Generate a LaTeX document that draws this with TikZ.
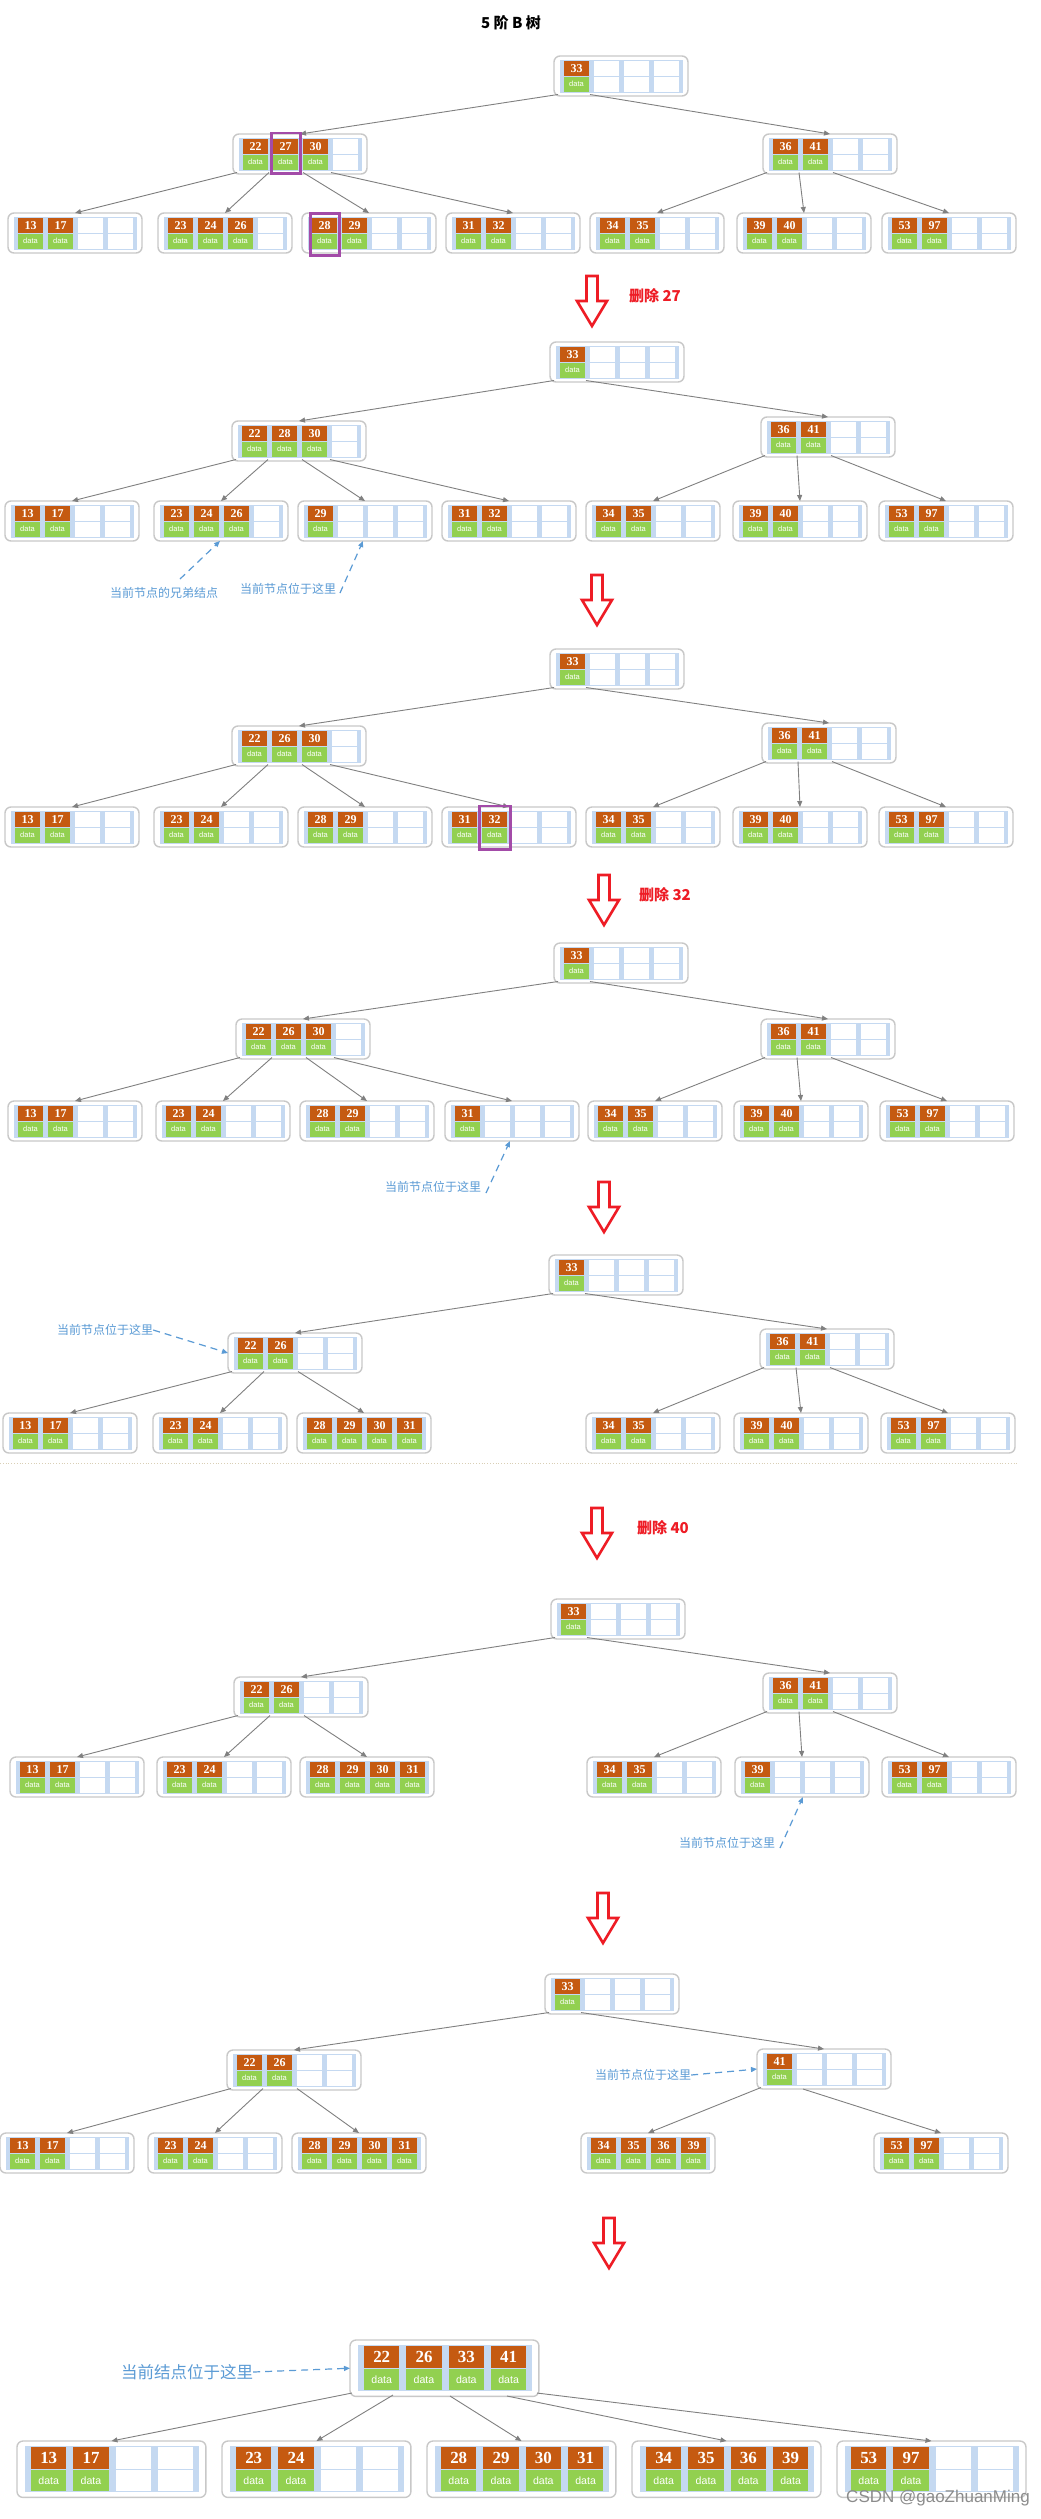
\documentclass[tikz,border=0pt]{standalone}
\usepackage{fontspec}
\usetikzlibrary{arrows.meta,calc}
\setmainfont{Liberation Sans}
\newfontfamily\numfont{Liberation Serif}
\newfontfamily\cjk{Noto Sans CJK SC}
\definecolor{orng}{HTML}{C55A11}
\definecolor{grn}{HTML}{92D050}
\definecolor{bandblue}{HTML}{C5D9F1}
\definecolor{boxgray}{HTML}{C8C8C8}
\definecolor{edgegray}{HTML}{808080}
\definecolor{annblue}{HTML}{5B9BD5}
\definecolor{hlpurple}{HTML}{A34BA8}
\definecolor{arrred}{HTML}{EE1C25}
\definecolor{sepcol}{HTML}{D9CFB5}
\tikzset{
  bbox/.style={draw=boxgray, line width=1.4pt, rounded corners=6pt, fill=white,
    minimum width=134pt, minimum height=40pt, inner sep=0pt, outer sep=0pt},
  keytxt/.style={text=white, font=\numfont\bfseries\fontsize{12}{12}\selectfont, inner sep=0pt},
  datatxt/.style={text=white, font=\fontsize{7.5}{8}\selectfont, inner sep=0pt},
  link/.style={draw=edgegray, line width=0.9pt, -{Triangle[length=6pt,width=5pt]}},
  annarrow/.style={draw=annblue, line width=1.2pt, dash pattern=on 7pt off 5pt, -{Triangle[length=6pt,width=5pt]}},
  anntext/.style={text=annblue, font=\cjk\fontsize{12}{12}\selectfont, inner sep=0pt},
  deltext/.style={text=arrred, font=\cjk\bfseries\fontsize{15}{15}\selectfont, inner sep=0pt},
  hl/.style={draw=hlpurple, line width=2.5pt},
  downarrow/.style={draw=arrred, line width=2.6pt, fill=white, line join=miter},
}
\newcommand\btnode[5]{%
  \begin{scope}[shift={(#2,#3)}, scale=#4, transform shape]
    \node[bbox, anchor=north west] (#1) at (0,0) {};
    \fill[bandblue] (6,3.5) rectangle (129,36.5);
    \foreach \i in {0,1,2,3}{%
      \fill[white] (10+30*\i,4.5) rectangle (35+30*\i,19.5);
      \fill[white] (10+30*\i,20.5) rectangle (35+30*\i,35.5);}
    \foreach \k [count=\j from 0] in {#5}{%
      \fill[orng] (10+30*\j,4.5) rectangle (35+30*\j,19.5);
      \fill[grn] (10+30*\j,20.5) rectangle (35+30*\j,35.5);
      \node[keytxt] at (22.5+30*\j,12.2) {\k};
      \node[datatxt] at (22.5+30*\j,28) {data};}
    \foreach \p [count=\j from 0] in {4,36,70,98,128}{\coordinate (#1-\j) at (\p,38.5);}
  \end{scope}}
\newcommand\redarrow[2]{%
  \draw[downarrow] (#1-5.5,#2) -- (#1+5.5,#2) -- (#1+5.5,#2+25) -- (#1+15,#2+25)
    -- (#1,#2+50) -- (#1-15,#2+25) -- (#1-5.5,#2+25) -- cycle;}
\begin{document}
\begin{tikzpicture}[x=1pt,y=-1pt]
\fill[white] (0,0) rectangle (1041,2519);
\useasboundingbox (0,0) rectangle (1041,2519);

% title
\node[font=\cjk\bfseries\fontsize{15}{15}\selectfont, inner sep=0pt] (title) at (511,23) {5 阶 B 树};

% ---------- panel 1 ----------
\btnode{A1}{554}{56}{1}{33}
\btnode{B1}{233}{134}{1}{22,27,30}
\btnode{C1}{763}{134}{1}{36,41}
\btnode{L11}{8}{213}{1}{13,17}
\btnode{L12}{158}{213}{1}{23,24,26}
\btnode{L13}{302}{213}{1}{28,29}
\btnode{L14}{446}{213}{1}{31,32}
\btnode{L15}{590}{213}{1}{34,35}
\btnode{L16}{737}{213}{1}{39,40}
\btnode{L17}{882}{213}{1}{53,97}
\draw[link] (A1-0) -- (B1.north);
\draw[link] (A1-1) -- (C1.north);
\draw[link] (B1-0) -- (L11.north);
\draw[link] (B1-1) -- (L12.north);
\draw[link] (B1-2) -- (L13.north);
\draw[link] (B1-3) -- (L14.north);
\draw[link] (C1-0) -- (L15.north);
\draw[link] (C1-1) -- (L16.north);
\draw[link] (C1-2) -- (L17.north);
\draw[hl] (271.5,133) rectangle (300.5,173.5);
\draw[hl] (310.5,213.5) rectangle (339.5,255.5);

\redarrow{592}{276}
\node[deltext] (d27) at (655,296) {删除 27};

% ---------- panel 2 ----------
\btnode{A2}{550}{342}{1}{33}
\btnode{B2}{232}{421}{1}{22,28,30}
\btnode{C2}{761}{417}{1}{36,41}
\btnode{L21}{5}{501}{1}{13,17}
\btnode{L22}{154}{501}{1}{23,24,26}
\btnode{L23}{298}{501}{1}{29}
\btnode{L24}{442}{501}{1}{31,32}
\btnode{L25}{586}{501}{1}{34,35}
\btnode{L26}{733}{501}{1}{39,40}
\btnode{L27}{879}{501}{1}{53,97}
\draw[link] (A2-0) -- (B2.north);
\draw[link] (A2-1) -- (C2.north);
\draw[link] (B2-0) -- (L21.north);
\draw[link] (B2-1) -- (L22.north);
\draw[link] (B2-2) -- (L23.north);
\draw[link] (B2-3) -- (L24.north);
\draw[link] (C2-0) -- (L25.north);
\draw[link] (C2-1) -- (L26.north);
\draw[link] (C2-2) -- (L27.north);
\node[anntext] (T2a) at (164,593) {当前节点的兄弟结点};
\node[anntext] (T2b) at (288,589) {当前节点位于这里};
\coordinate (S2a) at (180,579);
\coordinate (S2b) at (340,593);
\draw[annarrow] (S2a) -- ([xshift=66pt]L22.south west);
\draw[annarrow] (S2b) -- ([xshift=65pt]L23.south west);

\redarrow{597}{575}

% ---------- panel 3 ----------
\btnode{A3}{550}{649}{1}{33}
\btnode{B3}{232}{726}{1}{22,26,30}
\btnode{C3}{762}{723}{1}{36,41}
\btnode{L31}{5}{807}{1}{13,17}
\btnode{L32}{154}{807}{1}{23,24}
\btnode{L33}{298}{807}{1}{28,29}
\btnode{L34}{442}{807}{1}{31,32}
\btnode{L35}{586}{807}{1}{34,35}
\btnode{L36}{733}{807}{1}{39,40}
\btnode{L37}{879}{807}{1}{53,97}
\draw[link] (A3-0) -- (B3.north);
\draw[link] (A3-1) -- (C3.north);
\draw[link] (B3-0) -- (L31.north);
\draw[link] (B3-1) -- (L32.north);
\draw[link] (B3-2) -- (L33.north);
\draw[link] (B3-3) -- (L34.north);
\draw[link] (C3-0) -- (L35.north);
\draw[link] (C3-1) -- (L36.north);
\draw[link] (C3-2) -- (L37.north);
\draw[hl] (479.5,806) rectangle (510.5,849.5);

\redarrow{604}{875}
\node[deltext] (d32) at (665,895) {删除 32};

% ---------- panel 4 ----------
\btnode{A4}{554}{943}{1}{33}
\btnode{B4}{236}{1019}{1}{22,26,30}
\btnode{C4}{761}{1019}{1}{36,41}
\btnode{L41}{8}{1101}{1}{13,17}
\btnode{L42}{156}{1101}{1}{23,24}
\btnode{L43}{300}{1101}{1}{28,29}
\btnode{L44}{445}{1101}{1}{31}
\btnode{L45}{588}{1101}{1}{34,35}
\btnode{L46}{734}{1101}{1}{39,40}
\btnode{L47}{880}{1101}{1}{53,97}
\draw[link] (A4-0) -- (B4.north);
\draw[link] (A4-1) -- (C4.north);
\draw[link] (B4-0) -- (L41.north);
\draw[link] (B4-1) -- (L42.north);
\draw[link] (B4-2) -- (L43.north);
\draw[link] (B4-3) -- (L44.north);
\draw[link] (C4-0) -- (L45.north);
\draw[link] (C4-1) -- (L46.north);
\draw[link] (C4-2) -- (L47.north);
\node[anntext] (T4) at (433,1187) {当前节点位于这里};
\coordinate (S4) at (486,1193);
\draw[annarrow] (S4) -- ([xshift=65pt]L44.south west);

\redarrow{604}{1182}

% ---------- panel 5 ----------
\btnode{A5}{549}{1255}{1}{33}
\btnode{B5}{228}{1333}{1}{22,26}
\btnode{C5}{760}{1329}{1}{36,41}
\btnode{L51}{3}{1413}{1}{13,17}
\btnode{L52}{153}{1413}{1}{23,24}
\btnode{L53}{297}{1413}{1}{28,29,30,31}
\btnode{L54}{586}{1413}{1}{34,35}
\btnode{L55}{734}{1413}{1}{39,40}
\btnode{L56}{881}{1413}{1}{53,97}
\draw[link] (A5-0) -- (B5.north);
\draw[link] (A5-1) -- (C5.north);
\draw[link] (B5-0) -- (L51.north);
\draw[link] (B5-1) -- (L52.north);
\draw[link] (B5-2) -- (L53.north);
\draw[link] (C5-0) -- (L54.north);
\draw[link] (C5-1) -- (L55.north);
\draw[link] (C5-2) -- (L56.north);
\node[anntext] (T5) at (105,1330) {当前节点位于这里};
\draw[annarrow] (T5.east) -- (B5.west);
\draw[sepcol, line width=0.8pt, dotted] (0,1463) -- (1017,1463);

\redarrow{597}{1508}
\node[deltext] (d40) at (663,1528) {删除 40};

% ---------- panel 6 ----------
\btnode{A6}{551}{1599}{1}{33}
\btnode{B6}{234}{1677}{1}{22,26}
\btnode{C6}{763}{1673}{1}{36,41}
\btnode{L61}{10}{1757}{1}{13,17}
\btnode{L62}{157}{1757}{1}{23,24}
\btnode{L63}{300}{1757}{1}{28,29,30,31}
\btnode{L64}{587}{1757}{1}{34,35}
\btnode{L65}{735}{1757}{1}{39}
\btnode{L66}{882}{1757}{1}{53,97}
\draw[link] (A6-0) -- (B6.north);
\draw[link] (A6-1) -- (C6.north);
\draw[link] (B6-0) -- (L61.north);
\draw[link] (B6-1) -- (L62.north);
\draw[link] (B6-2) -- (L63.north);
\draw[link] (C6-0) -- (L64.north);
\draw[link] (C6-1) -- (L65.north);
\draw[link] (C6-2) -- (L66.north);
\node[anntext] (T6) at (727,1843) {当前节点位于这里};
\coordinate (S6) at (780,1848);
\draw[annarrow] (S6) -- ([xshift=68pt]L65.south west);

\redarrow{603}{1893}

% ---------- panel 7 ----------
\btnode{A7}{545}{1974}{1}{33}
\btnode{B7}{227}{2050}{1}{22,26}
\btnode{C7}{757}{2049}{1}{41}
\btnode{L71}{0}{2133}{1}{13,17}
\btnode{L72}{148}{2133}{1}{23,24}
\btnode{L73}{292}{2133}{1}{28,29,30,31}
\btnode{L74}{581}{2133}{1}{34,35,36,39}
\btnode{L75}{874}{2133}{1}{53,97}
\draw[link] (A7-0) -- (B7.north);
\draw[link] (A7-1) -- (C7.north);
\draw[link] (B7-0) -- (L71.north);
\draw[link] (B7-1) -- (L72.north);
\draw[link] (B7-2) -- (L73.north);
\draw[link] (C7-0) -- (L74.north);
\draw[link] ([xshift=46pt]C7.south west) -- (L75.north);
\node[anntext] (T7) at (643,2075) {当前节点位于这里};
\draw[annarrow] (T7.east) -- (C7.west);

\redarrow{609}{2218}

% ---------- panel 8 ----------
\btnode{A8}{350}{2340}{1.41}{22,26,33,41}
\btnode{L81}{17}{2441}{1.41}{13,17}
\btnode{L82}{222}{2441}{1.41}{23,24}
\btnode{L83}{427}{2441}{1.41}{28,29,30,31}
\btnode{L84}{632}{2441}{1.41}{34,35,36,39}
\btnode{L85}{837}{2441}{1.41}{53,97}
\coordinate (A8-0) at (352,2393);
\coordinate (A8-1) at (393,2395);
\coordinate (A8-2) at (450,2396);
\coordinate (A8-3) at (507,2396);
\coordinate (A8-4) at (537,2393);
\draw[link] (A8-0) -- (L81.north);
\draw[link] (A8-1) -- (L82.north);
\draw[link] (A8-2) -- (L83.north);
\draw[link] (A8-3) -- (L84.north);
\draw[link] (A8-4) -- (L85.north);
\node[anntext, font=\cjk\fontsize{16.5}{17}\selectfont] (T8) at (187,2372) {当前结点位于这里};
\draw[annarrow] (T8.east) -- (A8.west);

\node[text=gray!90, font=\fontsize{17}{17}\selectfont, inner sep=0pt, anchor=east] (wm) at (1030,2498) {CSDN @gaoZhuanMing};
\end{tikzpicture}
\end{document}
